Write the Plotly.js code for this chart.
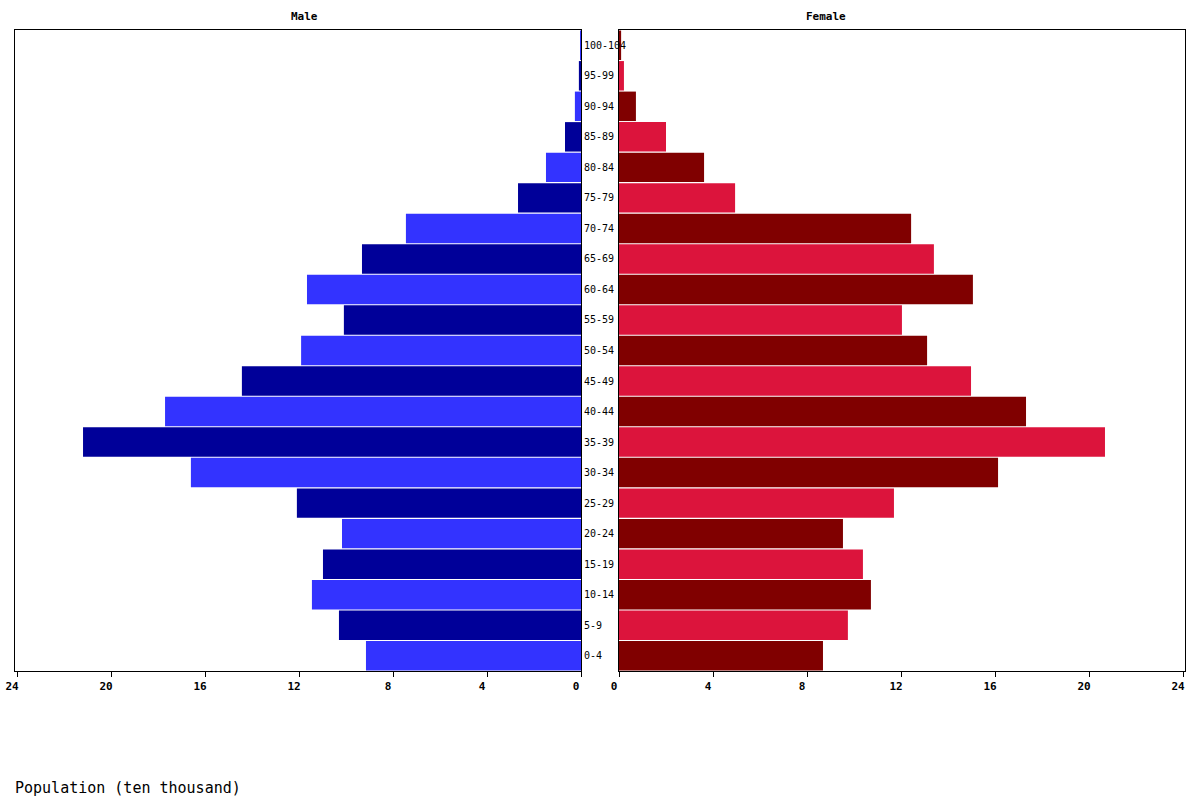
<!DOCTYPE html>
<html>
<head>
<meta charset="utf-8">
<script src="https://cdn.plot.ly/plotly-3.0.1.min.js"></script>
<style>
  body { margin: 0; background: #fff; }
  #pyramid { width: 1200px; height: 800px; }
</style>
</head>
<body>
<div id="pyramid"></div>
<script>
// age groups, bottom to top
var ages = ["0-4", "5-9", "10-14", "15-19", "20-24", "25-29", "30-34", "35-39", "40-44", "45-49",
            "50-54", "55-59", "60-64", "65-69", "70-74", "75-79", "80-84", "85-89", "90-94", "95-99", "100-104"];

// population, ten thousand
var male = [9.15, 10.30, 11.45, 10.98, 10.17, 12.09, 16.60, 21.19, 17.70, 14.43,
            11.91, 10.09, 11.66, 9.32, 7.45, 2.68, 1.49, 0.68, 0.26, 0.09, 0.04];
var female = [8.68, 9.74, 10.72, 10.38, 9.53, 11.70, 16.13, 20.68, 17.32, 14.98,
              13.11, 12.04, 15.06, 13.40, 12.43, 4.94, 3.62, 2.00, 0.72, 0.21, 0.09];

var xTicks = [0, 4, 8, 12, 16, 20, 24];

var maleCols = [], femaleCols = [];
for (var i = 0; i < ages.length; i++) {
    maleCols.push(i % 2 == 0 ? "#3333ff" : "#000099");
    femaleCols.push(i % 2 == 0 ? "#800000" : "#dc143c");
}

var mono = "DejaVu Sans Mono, monospace";

var trMale = {
    type: "bar",
    orientation: "h",
    x: male,
    y: ages,
    xaxis: "x",
    yaxis: "y",
    marker: { color: maleCols },
    hoverinfo: "x+y"
};
var trFemale = {
    type: "bar",
    orientation: "h",
    x: female,
    y: ages,
    xaxis: "x2",
    yaxis: "y2",
    marker: { color: femaleCols },
    hoverinfo: "x+y"
};

function px(v) { return v / 1200; }
function py(v) { return 1 - v / 800; }

var axisX = {
    showline: true,
    mirror: true,
    linecolor: "black",
    linewidth: 1,
    showgrid: false,
    zeroline: false,
    ticks: "outside",
    ticklen: 5,
    tickcolor: "black",
    tickvals: xTicks,
    ticktext: xTicks.map(String),
    tickfont: { family: mono, size: 11, color: "black", weight: "bold" },
    fixedrange: true
};
var axisY = {
    showline: true,
    mirror: true,
    linecolor: "black",
    linewidth: 1,
    showgrid: false,
    zeroline: false,
    showticklabels: false,
    ticks: "",
    range: [-0.5, ages.length - 0.5],
    domain: [py(671), py(30)],
    fixedrange: true
};

var annots = [];
for (var i = 0; i < ages.length; i++) {
    annots.push({
        text: ages[i],
        xref: "paper", yref: "y",
        x: px(582), y: ages[i],
        xanchor: "left", yanchor: "middle",
        showarrow: false,
        font: { family: mono, size: 10, color: "black" }
    });
}
annots.push({
    text: "<b>Male</b>", xref: "paper", yref: "paper",
    x: px(304), y: py(17), xanchor: "center", yanchor: "middle",
    showarrow: false, font: { family: mono, size: 11, color: "black" }
});
annots.push({
    text: "<b>Female</b>", xref: "paper", yref: "paper",
    x: px(826), y: py(17), xanchor: "center", yanchor: "middle",
    showarrow: false, font: { family: mono, size: 11, color: "black" }
});
annots.push({
    text: "Population (ten thousand)", xref: "paper", yref: "paper",
    x: px(13), y: py(788), xanchor: "left", yanchor: "middle",
    showarrow: false, font: { family: mono, size: 15, color: "black" }
});

var layout = {
    width: 1200,
    height: 800,
    margin: { l: 0, r: 0, t: 0, b: 0, pad: 0 },
    paper_bgcolor: "white",
    plot_bgcolor: "white",
    showlegend: false,
    bargap: 0.035,
    // male axis runs right to left, so its label shift has the other sign
    xaxis: Object.assign({}, axisX, { domain: [px(15), px(581)], range: [24.085, 0], anchor: "y", ticklabelshift: 5 }),
    xaxis2: Object.assign({}, axisX, { domain: [px(619), px(1185)], range: [0, 24.085], anchor: "y2", ticklabelshift: -5 }),
    yaxis: Object.assign({}, axisY, { anchor: "x" }),
    yaxis2: Object.assign({}, axisY, { anchor: "x2" }),
    annotations: annots
};

Plotly.newPlot("pyramid", [trMale, trFemale], layout, { displayModeBar: false });
</script>
</body>
</html>
